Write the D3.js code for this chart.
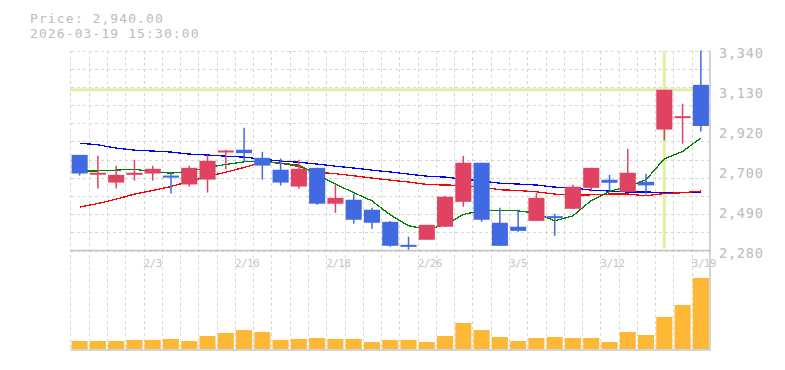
<!DOCTYPE html>
<meta charset="utf-8">
<style>
  body { margin: 0; background: #fff; }
  text { font-family: "DejaVu Sans Mono", "Liberation Mono", monospace; }
</style>
<body>
<div id="chart"></div>
<script src="https://d3js.org/d3.v7.min.js"></script>
<script>

// trading days (one candle each)
const dates = ["1/28","1/29","1/30","2/2","2/3","2/4","2/5","2/6","2/9","2/10","2/12","2/13",
  "2/16","2/17","2/18","2/19","2/20","2/24","2/25","2/26","2/27","3/2","3/3","3/4","3/5","3/6",
  "3/9","3/10","3/11","3/12","3/13","3/16","3/17","3/18","3/19"];
const dateTicks = ["2/3","2/10","2/18","2/26","3/5","3/12","3/19"];

const open  = [2787,2683,2640,2681,2688,2677,2630,2656,2803,2814,2771,2708,2619,2718,2528,2549,2496,2432,2310,2337,2406,2538,2745,2427,2406,2437,2462,2501,2612,2655,2591,2644,2921,2983,3158];
const high  = [2787,2782,2729,2761,2729,2693,2729,2787,2814,2930,2803,2768,2761,2718,2633,2580,2506,2437,2353,2416,2570,2782,2745,2506,2496,2586,2474,2628,2718,2681,2819,2687,3132,3058,3340];
const low   = [2677,2609,2609,2651,2651,2582,2619,2587,2711,2750,2656,2624,2609,2522,2480,2422,2395,2300,2284,2337,2406,2512,2432,2305,2379,2437,2358,2501,2593,2596,2591,2577,2863,2846,2911];
const close = [2688,2692,2681,2692,2713,2672,2718,2755,2810,2796,2730,2640,2713,2528,2559,2443,2427,2305,2300,2416,2565,2745,2443,2305,2384,2559,2455,2618,2718,2639,2692,2625,3132,2992,2940];

// moving averages (short / middle / long)
const ma5  = [2702,2702,2706,2711,2697,2690,2699,2720,2736,2750,2754,2743,2733,2681,2632,2587,2543,2469,2411,2393,2415,2471,2492,2492,2490,2478,2437,2464,2545,2593,2619,2655,2766,2805,2876];
const ma25 = [2510,2529,2552,2579,2598,2619,2646,2672,2695,2720,2748,2743,2725,2695,2687,2676,2664,2653,2643,2630,2627,2625,2616,2602,2598,2591,2579,2574,2575,2579,2579,2570,2582,2586,2595];
const ma75 = [2849,2840,2823,2812,2807,2802,2791,2786,2780,2775,2764,2754,2748,2738,2727,2717,2706,2696,2685,2674,2669,2658,2648,2637,2632,2627,2616,2611,2600,2595,2590,2590,2587,2587,2587];

// volume (thousand shares)
const volume = [80,80,80,90,90,100,80,130,160,190,170,90,100,110,100,100,70,90,90,70,130,260,190,120,80,110,120,110,110,70,170,140,320,440,710];

const priceMin = 2280, priceMax = 3340;
const cursorIndex = 32, cursorPrice = 3132;

const W = 785, H = 370;
const plotLeft = 70.5, plotRight = 710, plotTop = 50.5, priceBottom = 250.5, volBottom = 349, volTop = 269;

const svg = d3.select("#chart").append("svg")
  .attr("width", W).attr("height", H);

const x = d3.scaleBand()
  .domain(d3.range(dates.length))
  .range([plotLeft, plotRight])
  .paddingInner(0.12)
  .paddingOuter(0.06);
const step = x.step();
const xc = i => x(i) + x.bandwidth() / 2;
const xEdge = i => x(i) - step * 0.06;

const y = d3.scaleLinear().domain([priceMin, priceMax]).range([priceBottom, plotTop]);
const yv = d3.scaleLinear().domain([0, 800]).range([volBottom, volTop]);

// grid
const grid = svg.append("g")
  .attr("stroke", "#d6d6d6").attr("stroke-dasharray", "3,3").attr("shape-rendering", "crispEdges");
d3.range(dates.length).forEach(i => {
  const gx = Math.round(xEdge(i)) + 0.5;
  grid.append("line")
    .attr("x1", gx).attr("x2", gx)
    .attr("y1", plotTop).attr("y2", 350);
});
d3.range(12).forEach(k => {
  const v = priceMin + k * (priceMax - priceMin) / 11;
  grid.append("line")
    .attr("x1", plotLeft).attr("x2", plotRight)
    .attr("y1", Math.round(y(v)) + 0.5).attr("y2", Math.round(y(v)) + 0.5);
});

// crosshair
svg.append("line")
  .attr("x1", plotLeft).attr("x2", plotRight)
  .attr("y1", y(cursorPrice)).attr("y2", y(cursorPrice))
  .attr("stroke", "#e0f0a2").attr("stroke-width", 3);
svg.append("line")
  .attr("x1", xc(cursorIndex)).attr("x2", xc(cursorIndex))
  .attr("y1", plotTop).attr("y2", 248.5)
  .attr("stroke", "#e0f0a2").attr("stroke-width", 3);

// moving averages
const ma = [[ma75, "#0000ff"], [ma25, "#ff0000"], [ma5, "#008000"]];
ma.forEach(([vals, col]) => {
  svg.append("path")
    .datum(vals)
    .attr("fill", "none")
    .attr("stroke", col)
    .attr("stroke-width", 1.3)
    .attr("shape-rendering", "crispEdges")
    .attr("d", d3.line().x((d, i) => xc(i)).y(d => y(d)));
});

// candles
const upCol = "#e04362", downCol = "#4169e1";
const candles = svg.append("g");
dates.forEach((d, i) => {
  const col = close[i] >= open[i] ? upCol : downCol;
  candles.append("line")
    .attr("x1", xc(i)).attr("x2", xc(i))
    .attr("y1", y(high[i])).attr("y2", y(low[i]))
    .attr("stroke", col).attr("stroke-width", 1.5);
  const yTop = y(Math.max(open[i], close[i]));
  const yBot = y(Math.min(open[i], close[i]));
  candles.append("rect")
    .attr("x", x(i)).attr("width", x.bandwidth())
    .attr("y", yTop).attr("height", Math.max(2, yBot - yTop))
    .attr("fill", col);
});

// volume bars
svg.append("g").selectAll("rect")
  .data(volume)
  .join("rect")
    .attr("x", (d, i) => x(i))
    .attr("width", x.bandwidth())
    .attr("y", d => yv(d))
    .attr("height", d => volBottom - yv(d))
    .attr("fill", "#ffb836");

// axis lines
const axisCol = "#c4c4c4";
svg.append("line").attr("x1", plotLeft).attr("x2", plotRight).attr("y1", 250.5).attr("y2", 250.5)
  .attr("stroke", axisCol).attr("stroke-width", 1.5);
svg.append("line").attr("x1", plotLeft).attr("x2", plotRight).attr("y1", 350).attr("y2", 350)
  .attr("stroke", axisCol).attr("stroke-width", 1.5);
svg.append("line").attr("x1", plotRight).attr("x2", plotRight).attr("y1", plotTop).attr("y2", 350.5)
  .attr("stroke", axisCol).attr("stroke-width", 1.5);

// price labels
const fmt = d3.format(",");
d3.range(6).forEach(k => {
  const v = priceMin + k * (priceMax - priceMin) / 5;
  svg.append("text")
    .attr("x", 719).attr("y", y(v) + 7.5)
    .attr("font-size", "13.5px").attr("letter-spacing", "0.8px").attr("fill", "#bbbbbb")
    .text(fmt(Math.round(v / 10) * 10));
});

// date labels
dateTicks.forEach(t => {
  const i = dates.indexOf(t);
  svg.append("text")
    .attr("x", xEdge(i))
    .attr("y", 266.5)
    .attr("font-size", "11px").attr("letter-spacing", "-0.6px").attr("fill", "#c4c4c4")
    .text(t);
});

// header
svg.append("text").attr("x", 30).attr("y", 22.5)
  .attr("font-size", "13px").attr("letter-spacing", "1.1px").attr("fill", "#bbbbbb")
  .text("Price: " + d3.format(",.2f")(close[close.length - 1]));
svg.append("text").attr("x", 30).attr("y", 38)
  .attr("font-size", "13px").attr("letter-spacing", "1.1px").attr("fill", "#bbbbbb")
  .text("2026-03-19 15:30:00");

</script>
</body>
